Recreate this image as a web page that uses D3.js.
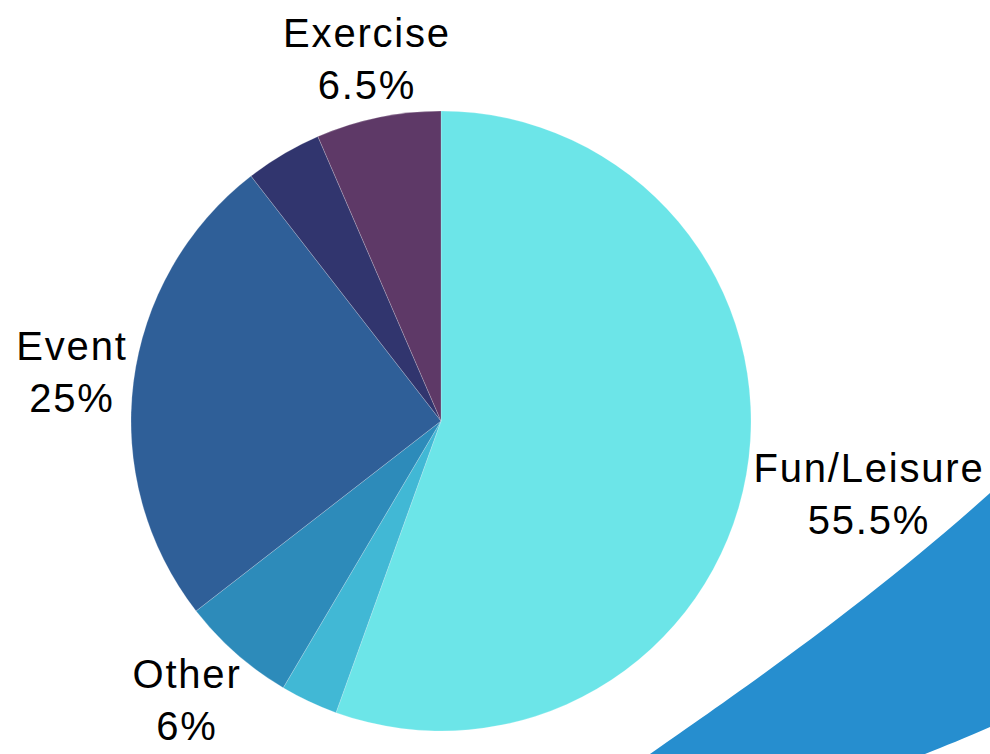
<!DOCTYPE html>
<html><head><meta charset="utf-8">
<script src="https://cdn.jsdelivr.net/npm/d3@7"></script>
<style>html,body{margin:0;padding:0;background:#fff;}</style>
</head><body>
<svg id="chart" width="990" height="754"></svg>
<script>
const categories = ["Fun/Leisure", "Unlabeled A", "Other", "Event", "Unlabeled B", "Exercise"];
const values = [55.5, 3, 6, 25, 4, 6.5];
const colors = ["#6ce5e8", "#41b8d5", "#2d8bba", "#2f5f98", "#31356e", "#5e3967"];
const labelNames = ["Fun/Leisure", null, "Other", "Event", null, "Exercise"];
const labelValues = ["55.5%", null, "6%", "25%", null, "6.5%"];
const labelPos = [[869, 482], null, [187, 688], [72, 360], null, [367, 47]];

const svg = d3.select("#chart");
// decorative background band
svg.append("path")
  .attr("d", "M650,754 C720,705 860,610 990,493 L990,727 C965,738 945,746 925,754 Z")
  .attr("fill", "#268ecf");

const cx = 441, cy = 421, r = 310;
const pie = d3.pie().sort(null).value(d => d)(values);
const arc = d3.arc().innerRadius(0).outerRadius(r);
const g = svg.append("g").attr("transform", `translate(${cx},${cy})`);
g.selectAll("path").data(pie).join("path")
  .attr("d", arc)
  .attr("fill", (d, i) => colors[i])
  .attr("stroke", "#ffffff").attr("stroke-width", 0.4).attr("stroke-opacity", 0.5);

labelNames.forEach((n, i) => {
  if (!n) return;
  const t = svg.append("text")
    .attr("x", labelPos[i][0]).attr("y", labelPos[i][1])
    .attr("text-anchor", "middle")
    .attr("font-family", "Liberation Sans, Arial, sans-serif")
    .attr("font-size", 40).attr("letter-spacing", 1.8).attr("fill", "#000");
  t.append("tspan").attr("x", labelPos[i][0]).text(n);
  t.append("tspan").attr("x", labelPos[i][0]).attr("dy", 52).text(labelValues[i]);
});
</script>
</body></html>
